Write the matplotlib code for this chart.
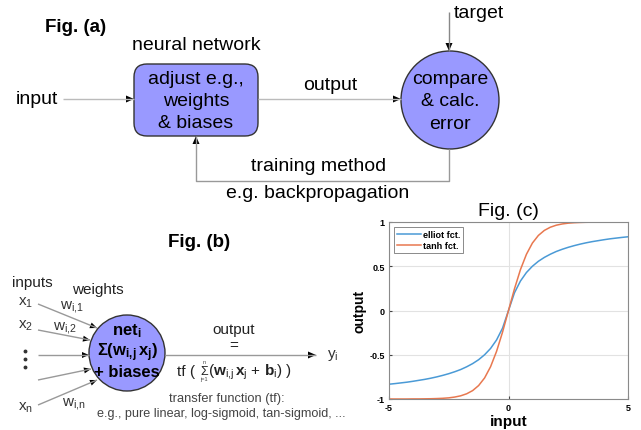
import matplotlib
matplotlib.use('Agg')
import matplotlib.pyplot as plt
from matplotlib.patches import FancyBboxPatch, Circle, Polygon
import numpy as np

plt.rcParams['font.family'] = ['Liberation Sans', 'DejaVu Sans']
plt.rcParams['mathtext.fontset'] = 'custom'
plt.rcParams['mathtext.rm'] = 'Liberation Sans'
plt.rcParams['mathtext.it'] = 'Liberation Sans'
plt.rcParams['mathtext.bf'] = 'Liberation Sans:bold'

# activation functions, sampled on the input range
x_in = [-5.0, -4.75, -4.5, -4.25, -4.0, -3.75, -3.5, -3.25, -3.0, -2.75, -2.5,
        -2.25, -2.0, -1.75, -1.5, -1.25, -1.0, -0.75, -0.5, -0.25, 0.0,
        0.25, 0.5, 0.75, 1.0, 1.25, 1.5, 1.75, 2.0, 2.25, 2.5, 2.75, 3.0,
        3.25, 3.5, 3.75, 4.0, 4.25, 4.5, 4.75, 5.0]
elliot = [-0.833, -0.826, -0.818, -0.810, -0.800, -0.789, -0.778, -0.765, -0.750,
          -0.733, -0.714, -0.692, -0.667, -0.636, -0.600, -0.556, -0.500, -0.429,
          -0.333, -0.200, 0.0,
          0.200, 0.333, 0.429, 0.500, 0.556, 0.600, 0.636, 0.667, 0.692, 0.714,
          0.733, 0.750, 0.765, 0.778, 0.789, 0.800, 0.810, 0.818, 0.826, 0.833]
tanh_f = [-1.000, -1.000, -1.000, -1.000, -0.999, -0.999, -0.998, -0.997, -0.995,
          -0.992, -0.987, -0.978, -0.964, -0.941, -0.905, -0.848, -0.762, -0.635,
          -0.462, -0.245, 0.0,
          0.245, 0.462, 0.635, 0.762, 0.848, 0.905, 0.941, 0.964, 0.978, 0.987,
          0.992, 0.995, 0.997, 0.998, 0.999, 0.999, 1.000, 1.000, 1.000, 1.000]
legend_labels = ['elliot fct.', 'tanh fct.']
y_ticks = [-1, -0.5, 0, 0.5, 1]
y_ticklabels = ['-1', '-0.5', '0', '0.5', '1']
x_ticks = [-5, 0, 5]

FILL = '#9999ff'

fig = plt.figure(figsize=(6.41, 4.31), dpi=100)
ax = fig.add_axes([0, 0, 1, 1])
ax.set_xlim(0, 641)
ax.set_ylim(431, 0)
ax.axis('off')


def arrow(pts, color='#bbbbbb', head=8, half=3.5):
    """gray connector with a black filled head at the last point"""
    xs = [p[0] for p in pts]
    ys = [p[1] for p in pts]
    ax.plot(xs, ys, color=color, lw=1, solid_capstyle='butt')
    (x0, y0), (x1, y1) = pts[-2], pts[-1]
    d = np.hypot(x1 - x0, y1 - y0)
    ux, uy = (x1 - x0) / d, (y1 - y0) / d
    bx, by = x1 - ux * head, y1 - uy * head
    tri = [(x1, y1), (bx - uy * half, by + ux * half), (bx + uy * half, by - ux * half)]
    ax.add_patch(Polygon(tri, closed=True, color='black', lw=0))


# ---- Fig. (a): training loop ----
ax.text(45, 27, 'Fig. (a)', fontsize=13.5, fontweight='bold', va='center')
ax.text(196, 46, 'neural network', fontsize=14, ha='center', va='center')
ax.add_patch(FancyBboxPatch((134, 65), 124, 72,
                            boxstyle='round,pad=0,rounding_size=13',
                            fc=FILL, ec='#333333', lw=1))
for y, s in zip([79, 102, 124], ['adjust e.g.,', 'weights', '& biases']):
    ax.text(196, y, s, fontsize=14, ha='center', va='center')

ax.text(16, 100, 'input', fontsize=14, va='center')
arrow([(63, 100), (134, 100)])
ax.text(330, 85, 'output', fontsize=14, ha='center', va='center')
arrow([(258, 100), (401, 100)])

ax.add_patch(Circle((450, 101), 49, fc=FILL, ec='#333333', lw=1))
for y, s in zip([79, 102, 125], ['compare', '& calc.', 'error']):
    ax.text(450, y, s, fontsize=14, ha='center', va='center')

ax.text(454, 14, 'target', fontsize=14, va='center')
arrow([(449, 13), (449, 52)], color='#888888')
arrow([(449, 150), (449, 182), (196, 182), (196, 137)], color='#999999')
ax.text(319, 167, 'training method', fontsize=14, ha='center', va='center')
ax.text(318, 194, 'e.g. backpropagation', fontsize=14, ha='center', va='center')

# ---- Fig. (b): single neuron ----
ax.text(168, 243, 'Fig. (b)', fontsize=13.5, fontweight='bold', va='center')
ax.text(12, 283, 'inputs', fontsize=11, va='center', color='#222222')
ax.text(72, 290, 'weights', fontsize=11, va='center', color='#222222')

xin_labels = [r'x$_{1}$', r'x$_{2}$', r'x$_{n}$']
for y, s in zip([303, 326, 408], xin_labels):
    ax.text(18, y, s, fontsize=11, va='center', color='#333333')
for (x, y), s in zip([(60, 307), (53, 328), (62, 404)],
                     [r'w$_{i{,}1}$', r'w$_{i{,}2}$', r'w$_{i{,}n}$']):
    ax.text(x, y, s, fontsize=11, va='center', color='#333333')
for y in [352, 360, 368]:
    ax.plot(25, y, 'o', ms=1.8, color='#333333')

for p0, p1 in [((38, 305), (97, 329)), ((38, 331), (90, 341)),
               ((38, 356), (89, 356)), ((38, 381), (91, 370)),
               ((38, 406), (97, 381))]:
    arrow([p0, p1], color='#999999', head=7, half=3)

ax.add_patch(Circle((127, 354), 38, fc=FILL, ec='#333333', lw=1))
ax.text(127, 331, r'$\mathbf{net}_{\mathbf{i}}$', fontsize=12, ha='center', va='center')
ax.text(127, 353, r'$\mathbf{\Sigma(w}_{\mathbf{i{,}j}}\,\mathbf{x}_{\mathbf{j}}\mathbf{)}$',
        fontsize=12, ha='center', va='center')
ax.text(127, 373, '+ biases', fontsize=12, fontweight='bold', ha='center', va='center')

arrow([(165, 356), (316, 356)], color='#999999')
ax.text(327, 356, r'y$_{i}$', fontsize=11, va='center', color='#333333')
ax.text(234, 330, 'output', fontsize=11, ha='center', va='center', color='#222222')
ax.text(234, 346, '=', fontsize=11, ha='center', va='center', color='#222222')

# transfer function expression: tf ( sum_{j=1}^{n} (w_ij x_j + b_i) )
ax.text(177, 372, 'tf (', fontsize=11, ha='left', va='center', color='#222222')
ax.text(204, 372, '\u03a3', fontsize=9, ha='center', va='center', color='#222222')
ax.text(204, 363, 'n', fontsize=4, ha='center', va='center', color='#444444')
ax.text(204, 380, 'j=1', fontsize=4, ha='center', va='center', color='#444444')
ax.text(208, 372, r'($\mathbf{w}_{i{,}j}\,\mathbf{x}_{j}$ + $\mathbf{b}_{i}$) )',
        fontsize=11, ha='left', va='center', color='#222222')

ax.text(227, 399, 'transfer function (tf):', fontsize=9.3, ha='center', va='center',
        color='#444444')
ax.text(221, 414, 'e.g., pure linear, log-sigmoid, tan-sigmoid, ...', fontsize=9.1,
        ha='center', va='center', color='#444444')

# ---- Fig. (c): activation curves ----
axc = fig.add_axes([389 / 641, 31 / 431, 239 / 641, 177 / 431])
axc.plot(x_in, elliot, color='#4a9ad6', lw=1.1, label=legend_labels[0])
axc.plot(x_in, tanh_f, color='#e8784f', lw=1.1, label=legend_labels[1])
axc.set_xlim(-5, 5)
axc.set_ylim(-1, 1)
axc.set_xticks(x_ticks)
axc.set_xticklabels([str(t) for t in x_ticks])
axc.set_yticks(y_ticks)
axc.set_yticklabels(y_ticklabels)
axc.grid(True, color='#e2e2e2', lw=0.8)
axc.set_axisbelow(True)
axc.tick_params(direction='in', length=2.5, labelsize=6.5, color='#444444', pad=3)
for lab in axc.get_xticklabels() + axc.get_yticklabels():
    lab.set_fontweight('bold')
for sp in axc.spines.values():
    sp.set_color('#8a8a8a')
    sp.set_linewidth(0.8)
axc.set_xlabel('input', fontsize=11, fontweight='bold', labelpad=1)
axc.set_ylabel('output', fontsize=10, fontweight='bold', labelpad=2)
axc.set_title('Fig. (c)', fontsize=14, pad=5)
leg = axc.legend(loc='upper left', prop={'size': 6.5, 'weight': 'bold'},
                 fancybox=False, framealpha=1, edgecolor='#777777',
                 handlelength=2.6, borderpad=0.3, labelspacing=0.2,
                 handletextpad=0.3, borderaxespad=0.6)
leg.get_frame().set_linewidth(0.6)

fig.savefig('out.png', dpi=100)
